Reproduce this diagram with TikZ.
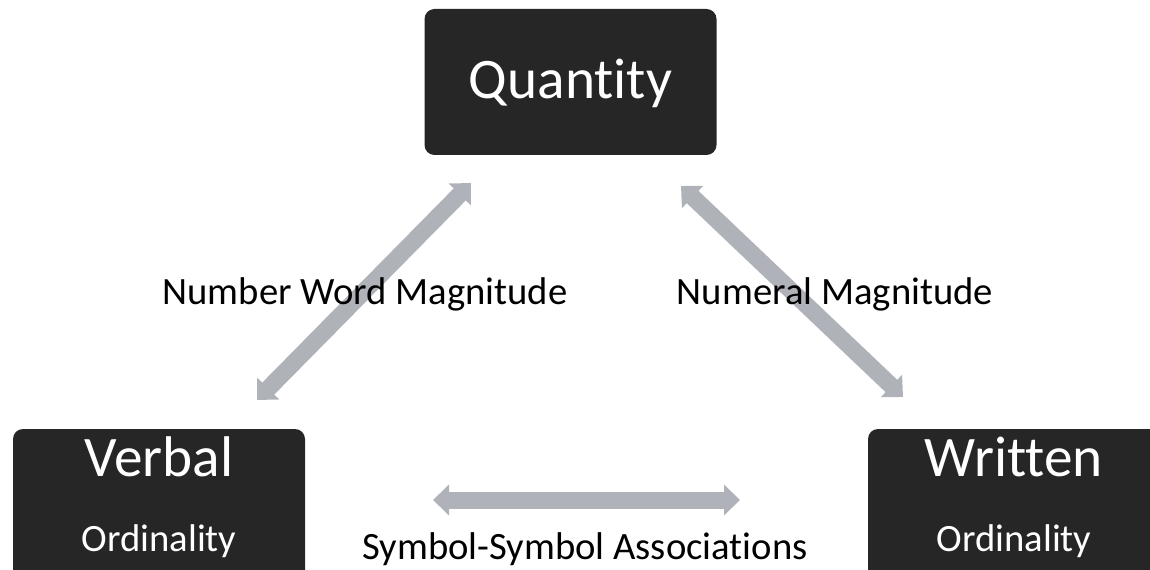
\documentclass[tikz,border=0pt]{standalone}
\usepackage{fontspec}
\setmainfont[Ligatures={NoCommon}]{Carlito}
\usepackage{tikz}
\usetikzlibrary{arrows.meta,positioning,calc}
\definecolor{boxdark}{HTML}{262626}
\definecolor{linkgray}{HTML}{AFB2B9}
\tikzset{
  cbox/.style={draw=none,fill=boxdark,rounded corners=7.5pt,minimum width=219pt,inner sep=0pt},
  ctitle/.style={text=white,font=\fontsize{43}{48}\selectfont,anchor=base,inner sep=0pt},
  csub/.style={text=white,font=\fontsize{29}{34}\selectfont,anchor=base,inner sep=0pt},
  clab/.style={text=black,font=\fontsize{29}{34}\selectfont,anchor=base,inner sep=0pt},
  carr/.style={{Triangle[length=12pt,width=22.5pt]}-{Triangle[length=12pt,width=22.5pt]},line width=12.75pt,draw=linkgray}
}

\begin{document}
\begin{tikzpicture}[x=0.75pt,y=-0.75pt]
  \clip (0,0) rectangle (1150,570);
  % boxes
  \node[cbox,minimum height=109.5pt] (quantity) at (570.5,82) {};
  \node[cbox,minimum height=127.5pt] (verbal) at (159,514) {};
  \node[cbox,minimum height=127.5pt] (written) at (1014,514) {};
  \node[ctitle] (qtitle) at ($(quantity.north)+(0,90)$) {Quantity};
  \node[ctitle] (vtitle) at ($(verbal.north)+(0,48)$) {Verbal};
  \node[csub] (vsub) at ($(verbal.north)+(0,123)$) {Ordinality};
  \node[ctitle] (wtitle) at ($(written.north)+(0,48)$) {Written};
  \node[csub] (wsub) at ($(written.north)+(0,123)$) {Ordinality};
  % links
  \coordinate (vq1) at (257,400);
  \coordinate (vq2) at (471,183);
  \coordinate (wq1) at (903,397);
  \coordinate (wq2) at (681,186);
  \coordinate (vw1) at (433,500);
  \coordinate (vw2) at (740,500);
  \draw[carr] (vq1) -- (vq2);
  \draw[carr] (wq1) -- (wq2);
  \draw[carr] (vw1) -- (vw2);
  % labels
  \node[clab] (vqlab) at (365,305) {Number Word Magnitude};
  \node[clab] (wqlab) at (835,305) {Numeral Magnitude};
  \node[clab] (vwlab) at (585,559) {Symbol-Symbol Associations};
\end{tikzpicture}
\end{document}
